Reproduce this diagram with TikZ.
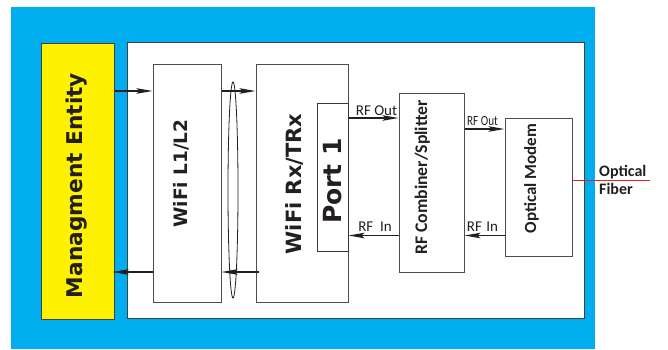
\documentclass[tikz,border=0pt]{standalone}
\usepackage{fontspec}
\usetikzlibrary{arrows.meta}
\newfontfamily\dvs{DejaVu Sans}
\newfontfamily\carl{Carlito}
\newfontfamily\carlc{Carlito}[FakeStretch=0.8]
\definecolor{cyanbg}{HTML}{00AEEF}
\definecolor{yel}{HTML}{FFF200}
\definecolor{fiberred}{HTML}{E8202A}
\definecolor{ink}{HTML}{231F20}
\definecolor{edge}{HTML}{4D4D4D}
\begin{document}
\begin{tikzpicture}[x=1pt,y=-1pt,
  box/.style={draw=edge,line width=1pt,fill=white,rectangle,inner sep=0pt},
  vtext/.style={rotate=90,anchor=base,inner sep=0pt,text=ink},
  lbl/.style={anchor=base,inner sep=0pt,text=ink,font=\carl\fontsize{15}{15}\selectfont},
  lblc/.style={anchor=base,inner sep=0pt,text=ink,font=\carlc\fontsize{14}{14}\selectfont},
  arr/.style={line width=1.3pt,draw=ink,-{Stealth[length=16pt,width=5.5pt,inset=3pt]}},
]
\useasboundingbox (0,0) rectangle (668,349);
\fill[white] (0,0) rectangle (668,349);
% background and frames
\node[rectangle,fill=cyanbg,inner sep=0pt,minimum width=584pt,minimum height=342pt] (bg) at (303,178) {};
\node[box,draw=ink!85,fill=yel,minimum width=73pt,minimum height=276pt] (mgmt) at (77.5,181) {};
\node[box,draw=ink!85,minimum width=457pt,minimum height=276.5pt] (panel) at (355.5,180.25) {};
% blocks
\node[box,minimum width=68pt,minimum height=238pt] (l1) at (187,183) {};
\node[box,minimum width=92pt,minimum height=238pt] (rx) at (302,183) {};
\node[box,draw=ink!90,minimum width=31pt,minimum height=148pt] (port) at (332.5,177) {};
\node[box,minimum width=65pt,minimum height=179pt] (comb) at (431.5,182.5) {};
\node[box,minimum width=67pt,minimum height=138pt] (modem) at (538.5,187) {};
% texts
\node[vtext,font=\dvs\bfseries\fontsize{21.7}{24}\selectfont] (mgmtT) at (82,185.5) {Managment Entity};
\node[vtext,font=\dvs\bfseries\fontsize{18.5}{20}\selectfont] (l1T) at (187,173.5) {WiFi L1/L2};
\node[vtext,font=\dvs\bfseries\fontsize{21}{24}\selectfont] (rxT) at (301,184) {WiFi Rx/TRx};
\node[vtext,font=\dvs\bfseries\fontsize{25}{28}\selectfont] (portT) at (341.5,181) {Port 1};
\node[vtext,font=\carl\bfseries\fontsize{17.7}{20}\selectfont] (combT) at (427,177.5) {RF Combiner/Splitter};
\node[vtext,font=\carl\bfseries\fontsize{17}{20}\selectfont] (modemT) at (536,178.5) {Optical Modem};
% helper coordinates
\coordinate (ya) at (0,91);
\coordinate (yb) at (0,272);
\coordinate (yc) at (0,118);
\coordinate (yd) at (0,129);
\coordinate (ye) at (0,235.5);
\coordinate (yf) at (0,180.5);
\coordinate (fiberEnd) at (650,180.5);
% ellipse around the L1/L2 - Rx links
\draw[ink,line width=0.8pt] (233,190) ellipse [x radius=5pt,y radius=108pt];
% arrows
\draw[arr] (mgmt.east |- ya) -- (l1.west |- ya);
\draw[arr] (l1.east |- ya) -- (rx.west |- ya);
\draw[arr] ([xshift=3pt]rx.west |- yb) -- (l1.east |- yb);
\draw[arr] (l1.west |- yb) -- ([xshift=-2pt]mgmt.east |- yb);
\draw[arr] (port.east |- yc) -- (comb.west |- yc);
\draw[arr] (comb.east |- yd) -- (modem.west |- yd);
\draw[arr] (comb.west |- ye) -- (port.east |- ye);
\draw[arr] (modem.west |- ye) -- (comb.east |- ye);
% labels
\node[lbl] (lo1) at (376.5,115) {RF Out};
\node[lblc] (lo2) at (482.5,125) {RF Out};
\node[lbl] (li1) at (375,231) {RF\hspace{0.45em}In};
\node[lbl] (li2) at (482.5,231) {RF\hspace{0.3em}In};
% optical fiber
\draw[fiberred,line width=1pt] (modem.east |- yf) -- (fiberEnd);
\node[anchor=base west,inner sep=0pt,text=ink,font=\carl\bfseries\fontsize{16}{16}\selectfont] (fib1) at (599,176) {Optical};
\node[anchor=base west,inner sep=0pt,text=ink,font=\carl\bfseries\fontsize{16}{16}\selectfont] (fib2) at (599,194.5) {Fiber};
\end{tikzpicture}
\end{document}
